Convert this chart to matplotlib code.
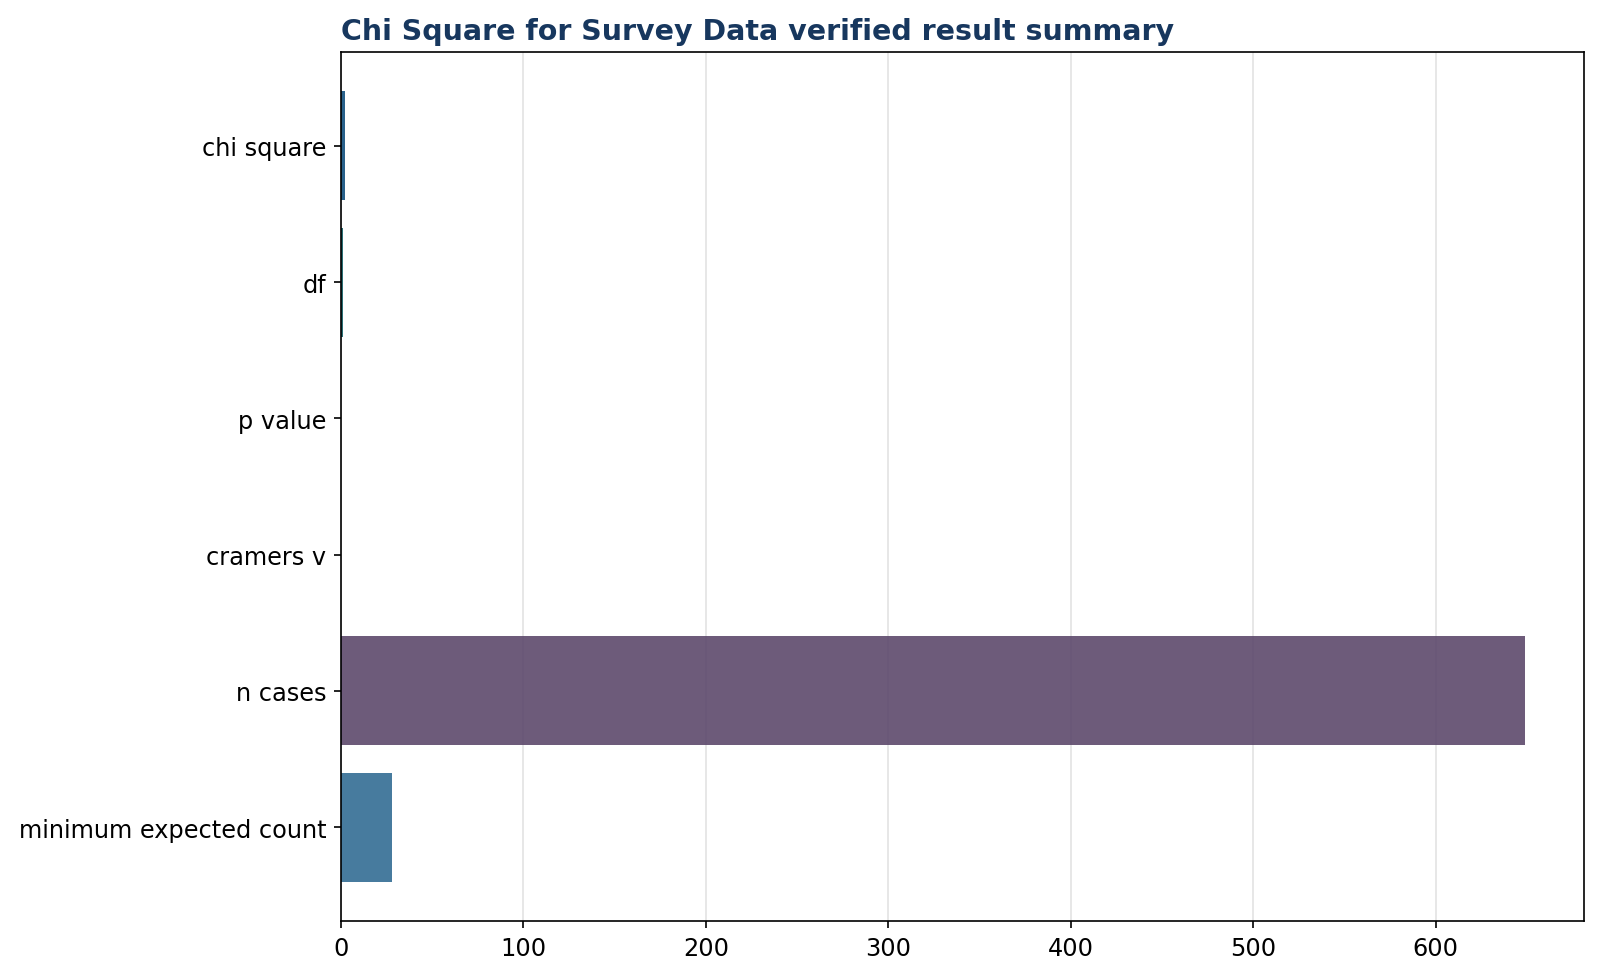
import matplotlib.pyplot as plt

labels = ['chi square', 'df', 'p value', 'cramers v', 'n cases', 'minimum expected count']
values = [2.0, 1.0, 0.16, 0.06, 649, 28]
colors = ['#11507e', '#135f66', '#336d94', '#24607f', '#5d496c', '#336d94']

fig, ax = plt.subplots(figsize=(10.67, 6.52), dpi=150)
fig.subplots_adjust(left=0.213, right=0.99, top=0.946, bottom=0.057)

ax.barh(labels, values, color=colors, alpha=0.9, height=0.8, zorder=2)
ax.invert_yaxis()
ax.grid(axis='x', color='#e3e3e3', linewidth=0.8)
ax.set_axisbelow(True)
ax.tick_params(axis='both', labelsize=11.5)
ax.set_title('Chi Square for Survey Data verified result summary', loc='left',
             fontsize=13.7, fontweight='bold', color='#17375e')

plt.savefig('out.png')
plt.close()
